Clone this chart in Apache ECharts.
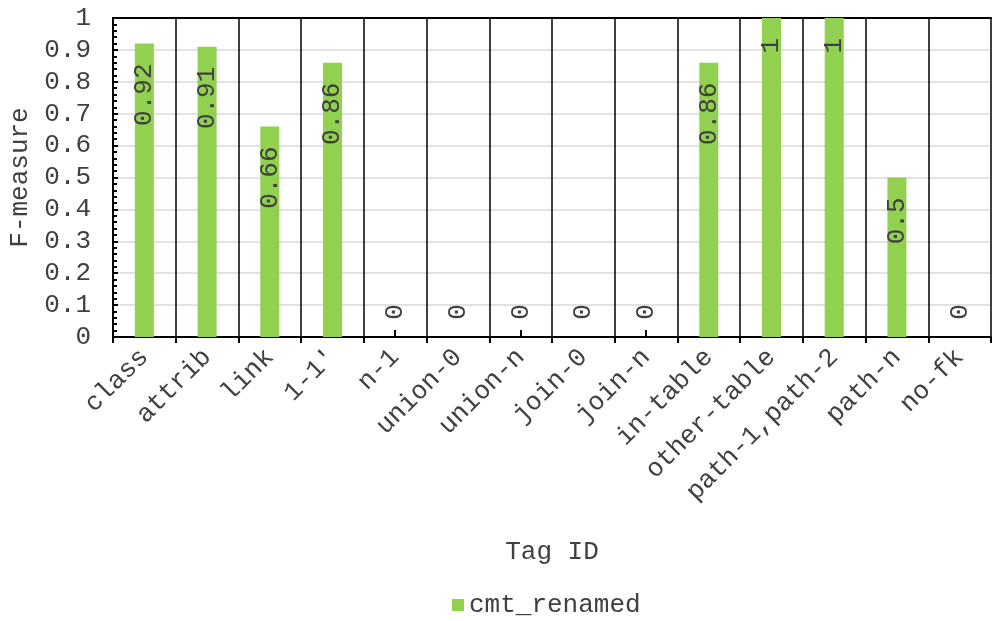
<!DOCTYPE html>
<html>
<head>
<meta charset="utf-8">
<script src="https://cdn.jsdelivr.net/npm/echarts@6/dist/echarts.min.js"></script>
<style>
  html, body { margin: 0; padding: 0; background: #fff; }
  #chart { width: 992px; height: 621px; }
</style>
</head>
<body>
<div id="chart"></div>
<script>
// Tag categories and F-measure per tag
const categories = ['class', 'attrib', 'link', "1-1'", 'n-1', 'union-0', 'union-n',
  'join-0', 'join-n', 'in-table', 'other-table', 'path-1,path-2', 'path-n', 'no-fk'];
const cmtRenamed = [0.92, 0.91, 0.66, 0.86, 0, 0, 0, 0, 0, 0.86, 1, 1, 0.5, 0];
const yTicks = { min: 0, max: 1, step: 0.1 };

const FONT = '"Liberation Mono", "Courier New", monospace';
const FS = 26;
const TXT = '#404040';
const GREEN = '#92D050';

const chart = echarts.init(document.getElementById('chart'), null, { renderer: 'canvas' });

// Zero-height bars carry their label above the baseline instead of inside the bar
const seriesData = cmtRenamed.map(v => v === 0
  ? { value: v, label: { position: 'top', distance: 25, align: 'center', verticalAlign: 'middle' } }
  : v);

chart.setOption({
  animation: false,
  backgroundColor: '#fff',
  textStyle: { fontFamily: FONT },
  grid: { left: 113, right: 1, top: 18, bottom: 284, containLabel: false, outerBoundsMode: 'none' },
  legend: {
    left: 447, top: 587,
    icon: 'rect', itemWidth: 12, itemHeight: 12, itemGap: 10,
    textStyle: { fontFamily: FONT, fontSize: FS, color: TXT },
    data: ['cmt_renamed']
  },
  xAxis: [
    {
      type: 'category',
      data: categories,
      name: 'Tag ID',
      nameLocation: 'middle',
      nameGap: 202,
      nameTextStyle: { fontFamily: FONT, fontSize: FS, color: TXT },
      axisLine: { show: true, lineStyle: { color: '#000', width: 2 } },
      axisTick: { show: true, inside: false, length: 6, lineStyle: { color: '#000', width: 2 } },
      splitLine: { show: true, lineStyle: { color: '#000', width: 1.5 } },
      axisLabel: { interval: 0, rotate: 45, margin: 16, fontFamily: FONT, fontSize: FS, color: TXT }
    },
    {
      // tick marks at category centres
      type: 'category',
      data: categories,
      position: 'bottom',
      axisLine: { show: false },
      axisTick: { show: true, alignWithLabel: true, inside: true, length: 7, lineStyle: { color: '#000', width: 2 } },
      axisLabel: { show: false },
      splitLine: { show: false }
    },
    {
      // top frame line
      type: 'category',
      data: categories,
      position: 'top',
      axisLine: { show: true, lineStyle: { color: '#000', width: 2 } },
      axisTick: { show: false },
      axisLabel: { show: false },
      splitLine: { show: false }
    }
  ],
  yAxis: {
    type: 'value',
    min: yTicks.min,
    max: yTicks.max,
    interval: yTicks.step,
    name: 'F-measure',
    nameLocation: 'middle',
    nameGap: 80,
    nameTextStyle: { fontFamily: FONT, fontSize: FS, color: TXT },
    axisLine: { show: true, lineStyle: { color: '#000', width: 2 } },
    axisTick: { show: true, inside: true, length: 5, lineStyle: { color: '#000', width: 2 } },
    minorTick: { show: true, splitNumber: 5, length: 4, lineStyle: { color: '#000', width: 2 } },
    splitLine: { show: true, lineStyle: { color: '#d9d9d9', width: 1.5 } },
    axisLabel: { margin: 22, fontFamily: FONT, fontSize: FS, color: TXT }
  },
  series: [{
    name: 'cmt_renamed',
    type: 'bar',
    xAxisIndex: 0,
    data: seriesData,
    barWidth: 19,
    itemStyle: { color: GREEN },
    label: {
      show: true,
      position: 'insideTop',
      distance: 20,
      rotate: 90,
      align: 'right',
      verticalAlign: 'middle',
      fontFamily: FONT,
      fontSize: FS,
      color: TXT
    }
  }]
});
</script>
</body>
</html>
